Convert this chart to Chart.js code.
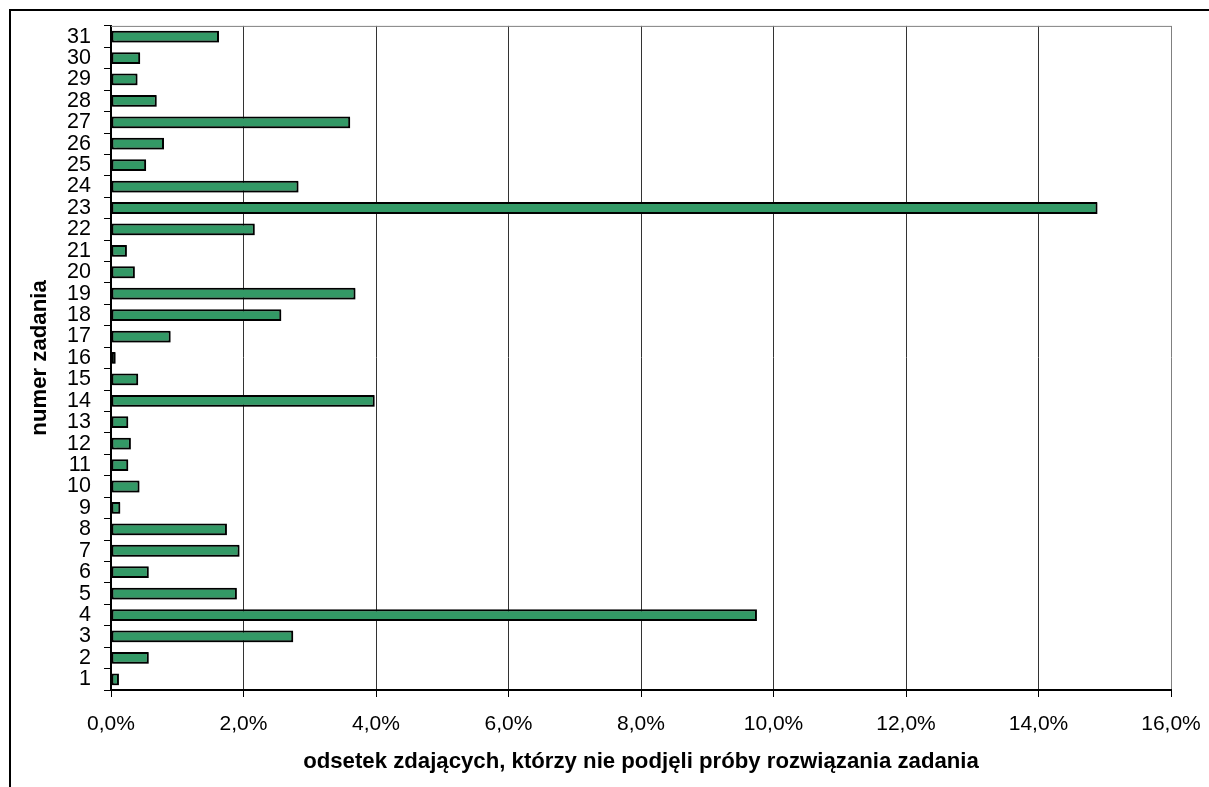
<!DOCTYPE html>
<html>
<head>
<meta charset="utf-8">
<script src="https://cdn.jsdelivr.net/npm/chart.js@4/dist/chart.umd.min.js"></script>
<style>
  html, body { margin: 0; padding: 0; background: #fff; }
  #wrap { position: relative; width: 1209px; height: 787px; }
</style>
</head>
<body>
<div id="wrap"><canvas id="chart-zadania" width="1209" height="787"></canvas></div>
<script>
const zadania = ["1","2","3","4","5","6","7","8","9","10","11","12","13","14","15","16",
                 "17","18","19","20","21","22","23","24","25","26","27","28","29","30","31"];
const odsetek = [0.12, 0.57, 2.75, 9.75, 1.90, 0.57, 1.94, 1.75, 0.14, 0.43, 0.26, 0.30, 0.26,
                 3.98, 0.41, 0.07, 0.90, 2.57, 3.69, 0.36, 0.24, 2.17, 14.89, 2.83, 0.53,
                 0.80, 3.61, 0.69, 0.40, 0.44, 1.63];
const osX = { min: 0, max: 16, krok: 2 };
const tytulX = "odsetek zdających, którzy nie podjęli próby rozwiązania zadania";
const tytulY = "numer zadania";

const font = "'Liberation Sans', Arial, sans-serif";

// ramka wykresu (lewa i górna krawędź) + górna krawędź obszaru kreślenia
const ramka = {
    id: "ramka",
    beforeDatasetsDraw(chart) {
        const c = chart.ctx, a = chart.chartArea;
        c.save();
        c.strokeStyle = "#808080";
        c.lineWidth = 1;
        c.beginPath();
        c.moveTo(a.left, a.top + 0.5);
        c.lineTo(a.right, a.top + 0.5);
        c.stroke();
        c.restore();
        c.save();
        c.shadowColor = "rgba(0,0,0,0.35)";
        c.shadowOffsetX = 1;
        c.shadowOffsetY = 1;
        c.shadowBlur = 1;
    },
    afterDatasetsDraw(chart) {
        chart.ctx.restore();
    },
    afterDraw(chart) {
        const c = chart.ctx;
        c.save();
        c.strokeStyle = "#000";
        c.lineWidth = 2;
        c.beginPath();
        c.moveTo(10, 787);
        c.lineTo(10, 10);
        c.lineTo(1209, 10);
        c.stroke();
        c.restore();
    }
};

new Chart(document.getElementById("chart-zadania"), {
    type: "bar",
    data: {
        labels: zadania,
        datasets: [{
            data: odsetek,
            backgroundColor: "#339966",
            borderColor: "#000",
            borderWidth: 2,
            borderSkipped: false,
            barPercentage: 0.55,
            categoryPercentage: 1
        }]
    },
    options: {
        indexAxis: "y",
        responsive: false,
        animation: false,
        layout: { padding: { top: 24, right: 38, left: 0, bottom: 0 } },
        plugins: { legend: { display: false }, tooltip: { enabled: false } },
        scales: {
            x: {
                min: osX.min,
                max: osX.max,
                afterFit: s => { s.height = 97; s.paddingLeft = 0; s.paddingRight = 0; },
                ticks: {
                    stepSize: osX.krok,
                    padding: 15,
                    color: "#000",
                    font: { family: font, size: 21 },
                    callback: v => v.toFixed(1).replace(".", ",") + "%"
                },
                grid: {
                    color: ctx => ctx.tick && ctx.tick.value === osX.max ? "#808080" : "#333",
                    lineWidth: 1,
                    tickLength: 7,
                    tickColor: "#000"
                },
                border: { color: "#000", width: 2 },
                title: {
                    display: true,
                    text: tytulX,
                    color: "#000",
                    font: { family: font, size: 22.2, weight: "bold" },
                    padding: { top: 0, bottom: 12 }
                }
            },
            y: {
                reverse: true,
                afterFit: s => { s.width = 111; },
                ticks: {
                    autoSkip: false,
                    padding: 13,
                    color: "#000",
                    font: { family: font, size: 21.5 }
                },
                grid: {
                    drawOnChartArea: false,
                    tickLength: 7,
                    color: "#000"
                },
                border: { color: "#000", width: 2 },
                title: {
                    display: true,
                    text: tytulY,
                    color: "#000",
                    font: { family: font, size: 22.2, weight: "bold" },
                    padding: { top: 27, bottom: 0 }
                }
            }
        }
    },
    plugins: [ramka]
});
</script>
</body>
</html>
